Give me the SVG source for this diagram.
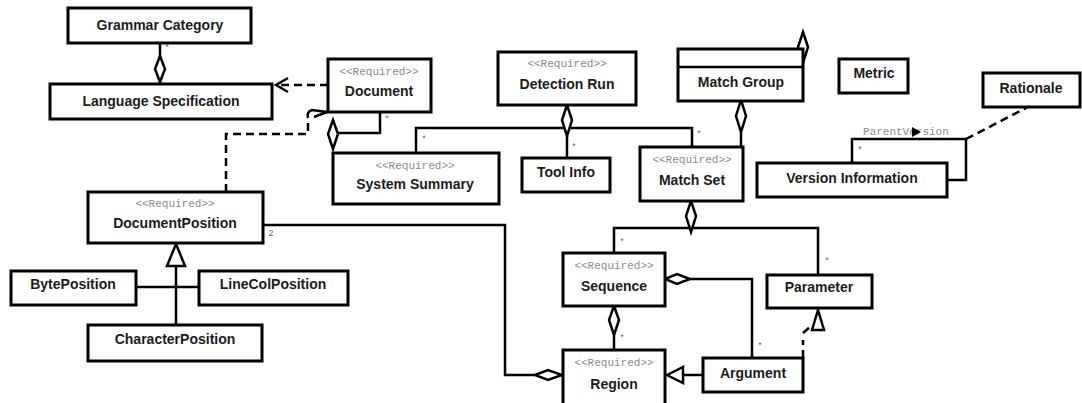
<svg xmlns="http://www.w3.org/2000/svg" width="1082" height="403" viewBox="0 0 1082 403">
  <style>
    .box { fill: #fff; stroke: #000; stroke-width: 3; }
    .name { font-family: "Liberation Sans", Arial, sans-serif; font-weight: bold; font-size: 14px; fill: #1c1c1c; text-anchor: middle; }
    .stereo { font-family: "Liberation Mono", "Courier New", monospace; font-size: 11px; fill: #8a8a8a; text-anchor: middle; }
    .mult { font-family: "Liberation Mono", "Courier New", monospace; font-size: 9px; fill: #666; text-anchor: middle; }
    .role { font-family: "Liberation Mono", "Courier New", monospace; font-size: 11px; fill: #8a8a8a; }
    .line { fill: none; stroke: #000; stroke-width: 2.5; }
    .dash { fill: none; stroke: #000; stroke-width: 2.5; stroke-dasharray: 8 5; }
    .agg { fill: #fff; stroke: #000; stroke-width: 2.5; stroke-linejoin: miter; }
    .gen { fill: #fff; stroke: #000; stroke-width: 2.5; }
    .open { fill: none; stroke: #000; stroke-width: 2.5; }
  </style>

  <!-- connectors -->
  <g id="connectors">
    <!-- Grammar Category - Language Specification -->
    <path class="line" d="M160,43 V82"/>
    <polygon class="agg" points="160,56 165,69 160,82 155,69"/>
    <text class="mult" x="167" y="51">*</text>

    <!-- Document depends on Language Specification -->
    <path class="dash" d="M328,85 H276"/>
    <path class="open" d="M288,78 L276,85 L288,92"/>

    <!-- DocumentPosition depends on Document -->
    <path class="dash" d="M226,192 V134 H308 V118"/>
    <path class="open" d="M308,118 Q306,112 312,110 L327,112 L314,117"/>

    <!-- Document - System Summary -->
    <path class="line" d="M380,112 V133 H338"/>
    <polygon class="agg" points="333,120 338,134 333,149 328,134"/>
    <text class="mult" x="387" y="122">*</text>

    <!-- Detection Run - System Summary / Match Set / Tool Info -->
    <path class="line" d="M416,153 V128 H692 V147"/>
    <path class="line" d="M567,136 V158"/>
    <polygon class="agg" points="567,105 572,120 567,136 562,120"/>
    <text class="mult" x="424" y="142">*</text>
    <text class="mult" x="574" y="150">*</text>
    <text class="mult" x="699" y="137">*</text>

    <!-- Match Group - Match Set -->
    <path class="line" d="M741,132 V147"/>
    <polygon class="agg" points="741,100 746,116 741,132 736,116"/>
    <polygon class="agg" points="803,32 808,47 803,63 798,47"/>

    <!-- Version Information parent link -->
    <path class="line" d="M852,163 V139 H966 V180 H947"/>
    <text class="role" x="863" y="135">ParentVersion</text>
    <polygon points="912,127 921,132 912,137" fill="#000"/>
    <text class="mult" x="860" y="153">*</text>

    <!-- Rationale note link -->
    <path class="dash" d="M966,139 L1028,107"/>

    <!-- DocumentPosition - Region -->
    <path class="line" d="M263,225 H505 V375 H535"/>
    <polygon class="agg" points="535,375 548,370 562,375 548,380"/>
    <text class="mult" x="271" y="236">2</text>

    <!-- DocumentPosition specialisations -->
    <path class="line" d="M176,266 V325 M136,287 H199"/>
    <polygon class="gen" points="176,244 185,266 167,266"/>

    <!-- Match Set - Sequence / Parameter -->
    <path class="line" d="M614,253 V228 H818 V275"/>
    <polygon class="agg" points="691,201 696,216 691,232 686,216"/>
    <text class="mult" x="622" y="245">*</text>
    <text class="mult" x="827" y="264">*</text>

    <!-- Sequence - Argument -->
    <path class="line" d="M690,279 H752 V358"/>
    <polygon class="agg" points="665,279 677,274 690,279 677,284"/>
    <text class="mult" x="760" y="349">*</text>

    <!-- Sequence - Region -->
    <path class="line" d="M614,335 V350"/>
    <polygon class="agg" points="614,306 619,320 614,335 609,320"/>
    <text class="mult" x="622" y="341">*</text>

    <!-- Argument specialises Region -->
    <path class="line" d="M683,375 H703"/>
    <polygon class="gen" points="667,375 683,367 683,383"/>

    <!-- Argument realises Parameter -->
    <path class="dash" d="M803,358 V340 M803,333 L811,326"/>
    <polygon class="gen" points="818,310 824,330 812,330"/>
  </g>

  <!-- nodes -->
  <g id="grammar-category">
    <rect class="box" x="68" y="8" width="183" height="35"/>
    <text class="name" x="160" y="30">Grammar Category</text>
  </g>
  <g id="language-specification">
    <rect class="box" x="50" y="84" width="222" height="35"/>
    <text class="name" x="161" y="106">Language Specification</text>
  </g>
  <g id="document">
    <rect class="box" x="328" y="59" width="103" height="53"/>
    <text class="stereo" x="379" y="75">&lt;&lt;Required&gt;&gt;</text>
    <text class="name" x="379" y="96">Document</text>
  </g>
  <g id="detection-run">
    <rect class="box" x="498" y="52" width="138" height="53"/>
    <text class="stereo" x="567" y="67">&lt;&lt;Required&gt;&gt;</text>
    <text class="name" x="567" y="89">Detection Run</text>
  </g>
  <g id="match-group">
    <rect class="box" x="678" y="49" width="125" height="52"/>
    <path class="line" d="M678,67 H803"/>
    <text class="name" x="741" y="87">Match Group</text>
  </g>
  <g id="metric">
    <rect class="box" x="839" y="59" width="69" height="34"/>
    <text class="name" x="874" y="78">Metric</text>
  </g>
  <g id="rationale">
    <rect class="box" x="983" y="73" width="97" height="34"/>
    <text class="name" x="1031" y="93">Rationale</text>
  </g>
  <g id="system-summary">
    <rect class="box" x="333" y="153" width="166" height="51"/>
    <text class="stereo" x="415" y="169">&lt;&lt;Required&gt;&gt;</text>
    <text class="name" x="415" y="189">System Summary</text>
  </g>
  <g id="tool-info">
    <rect class="box" x="522" y="158" width="88" height="34"/>
    <text class="name" x="566" y="177">Tool Info</text>
  </g>
  <g id="match-set">
    <rect class="box" x="640" y="147" width="103" height="54"/>
    <text class="stereo" x="692" y="163">&lt;&lt;Required&gt;&gt;</text>
    <text class="name" x="692" y="185">Match Set</text>
  </g>
  <g id="version-information">
    <rect class="box" x="757" y="163" width="190" height="34"/>
    <text class="name" x="852" y="183">Version Information</text>
  </g>
  <g id="document-position">
    <rect class="box" x="88" y="192" width="175" height="51"/>
    <text class="stereo" x="175" y="207">&lt;&lt;Required&gt;&gt;</text>
    <text class="name" x="175" y="228">DocumentPosition</text>
  </g>
  <g id="byte-position">
    <rect class="box" x="11" y="271" width="125" height="34"/>
    <text class="name" x="73" y="289">BytePosition</text>
  </g>
  <g id="linecol-position">
    <rect class="box" x="199" y="271" width="149" height="34"/>
    <text class="name" x="273" y="289">LineColPosition</text>
  </g>
  <g id="character-position">
    <rect class="box" x="88" y="325" width="174" height="36"/>
    <text class="name" x="175" y="344">CharacterPosition</text>
  </g>
  <g id="sequence">
    <rect class="box" x="563" y="253" width="102" height="53"/>
    <text class="stereo" x="614" y="269">&lt;&lt;Required&gt;&gt;</text>
    <text class="name" x="614" y="291">Sequence</text>
  </g>
  <g id="parameter">
    <rect class="box" x="767" y="275" width="105" height="33"/>
    <text class="name" x="819" y="292">Parameter</text>
  </g>
  <g id="region">
    <rect class="box" x="563" y="350" width="102" height="56"/>
    <text class="stereo" x="614" y="366">&lt;&lt;Required&gt;&gt;</text>
    <text class="name" x="614" y="389">Region</text>
  </g>
  <g id="argument">
    <rect class="box" x="703" y="358" width="100" height="34"/>
    <text class="name" x="753" y="378">Argument</text>
  </g>
</svg>
